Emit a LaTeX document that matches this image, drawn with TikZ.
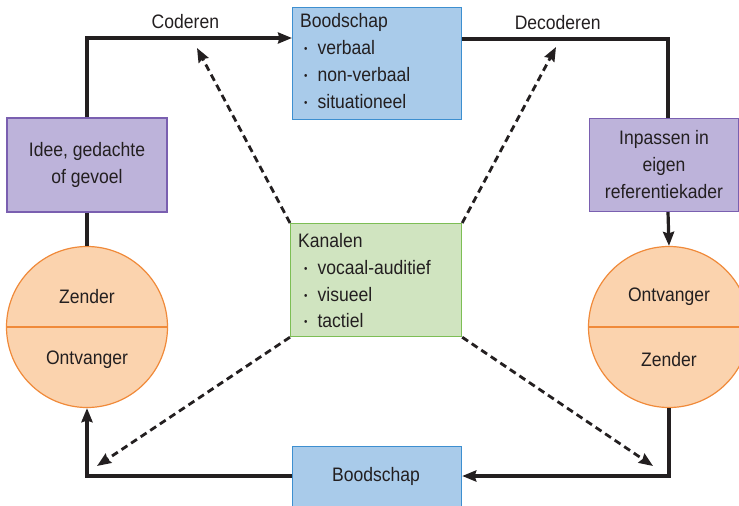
\documentclass[tikz,border=0pt]{standalone}
\usepackage{fontspec}
\setmainfont{Liberation Sans}[FakeStretch=0.9]
\usepackage{tikz}
\usetikzlibrary{arrows.meta}

\definecolor{msgfill}{HTML}{A9CBEA}
\definecolor{msgline}{HTML}{3D8FD0}
\definecolor{idfill}{HTML}{BDB3DA}
\definecolor{idline}{HTML}{7A5FB0}
\definecolor{chfill}{HTML}{D0E4C0}
\definecolor{chline}{HTML}{7DBE55}
\definecolor{pfill}{HTML}{FBD3AE}
\definecolor{pline}{HTML}{F08A3A}
\definecolor{ink}{HTML}{231F20}

\newcommand{\punt}{\raisebox{2pt}{\scalebox{0.55}{\textbullet}}\hspace{10pt}}

\tikzset{
  txt/.style={font=\fontsize{19.5}{27}\selectfont, text=ink, inner sep=0pt},
  msgbox/.style={draw=msgline, fill=msgfill, line width=1.2pt},
  idbox/.style={draw=idline, fill=idfill, line width=1.2pt},
  chbox/.style={draw=chline, fill=chfill, line width=1.2pt},
  persoon/.style={circle, draw=pline, fill=pfill, line width=1.2pt, minimum size=161pt, inner sep=0pt},
  flow/.style={line width=3.2pt, draw=ink, -{Stealth[length=14pt,width=11pt,inset=1.5pt]}},
  plain/.style={line width=3.2pt, draw=ink},
  kanaal/.style={line width=2.8pt, draw=ink, dash pattern=on 7pt off 4.5pt, -{Stealth[length=14pt,width=11pt,inset=1.5pt]}}
}

\begin{document}
\begin{tikzpicture}[x=1pt,y=-1pt]
        \useasboundingbox (0,0) rectangle (739,506);

        % Boodschap top
        \node[msgbox, minimum width=169pt, minimum height=112pt, anchor=north west] (bs) at (292,7) {};
        \node[txt, anchor=west] (bst) at (300,22) {Boodschap};
        \foreach \y/\t [count=\k] in {48/verbaal, 75/non-verbaal, 102/situationeel} {
            \node[txt, anchor=west] (bs\k) at (304,\y) {\punt\t};
        }

        % Idee / Inpassen
        \node[idbox, minimum width=160pt, minimum height=94pt, align=center, txt] (idee) at (87,165) {Idee, gedachte\\of gevoel};
        \node[idbox, minimum width=149pt, minimum height=93pt, align=center, txt] (inp) at (664,165) {Inpassen in\\eigen\\referentiekader};

        % Kanalen
        \node[chbox, minimum width=171pt, minimum height=113pt, anchor=north west] (kan) at (290,223) {};
        \node[txt, anchor=west] (kant) at (298,241) {Kanalen};
        \foreach \y/\t [count=\k] in {268/vocaal-auditief, 295/visueel, 321/tactiel} {
            \node[txt, anchor=west] (kan\k) at (304,\y) {\punt\t};
        }

        % Zender / Ontvanger
        \node[persoon] (links) at (87,327) {};
        \draw[pline, line width=1.2pt] (links.west) -- (links.east);
        \node[txt] (lz) at (87,297) {Zender};
        \node[txt] (lo) at (87,360) {Ontvanger};
        \node[persoon] (rechts) at (669,327) {};
        \draw[pline, line width=1.2pt] (rechts.west) -- (rechts.east);
        \node[txt] (ro) at (669,297) {Ontvanger};
        \node[txt] (rz) at (669,360) {Zender};

        % Boodschap bottom
        \node[msgbox, minimum width=169pt, minimum height=62pt, anchor=north west] (bb) at (292,446) {};
        \node[txt] (bbt) at (376,476) {Boodschap};

        % Solid connectors
        \draw[flow] (idee.north) |- node[txt, pos=0.74, above=8pt] (cod) {Coderen} (bs.west |- 0,38);
        \draw[plain] (bs.east |- 0,39) -| node[txt, pos=0.232, above=8pt] (dec) {Decoderen} (inp.north -| 668,0);
        \draw[flow] (inp.south -| 668,0) -- (rechts.north);
        \draw[plain] (idee.south) -- (links.north);
        \draw[flow] (rechts.south) |- (bb.east |- 0,476);
        \draw[flow] (bb.west |- 0,476) -| (links.south);

        % Dashed connectors
        \coordinate (k1) at (197,48);
        \coordinate (k2) at (556,47);
        \coordinate (k3) at (97,466);
        \coordinate (k4) at (653,466);
        \draw[kanaal] (kan.north west) -- (k1);
        \draw[kanaal] (kan.north east) -- (k2);
        \draw[kanaal] (kan.south west) -- (k3);
        \draw[kanaal] (kan.south east) -- (k4);
\end{tikzpicture}
\end{document}
